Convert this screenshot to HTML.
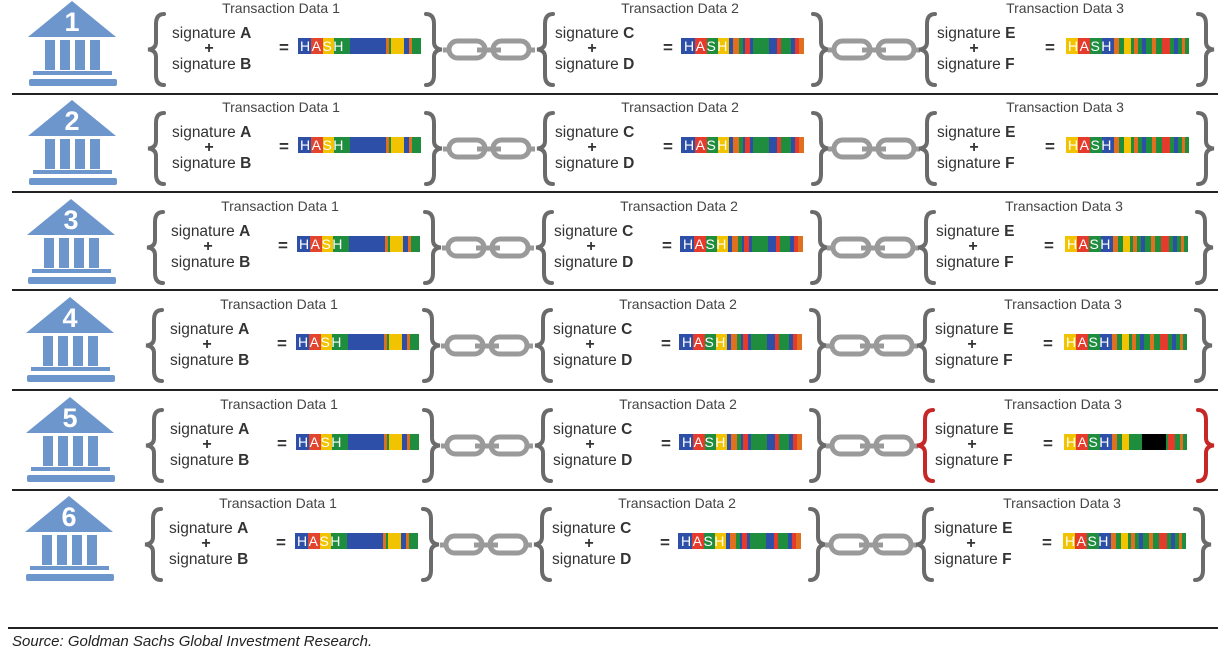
<!DOCTYPE html>
<html><head><meta charset="utf-8"><style>
html,body{margin:0;padding:0;background:#fff;}
svg{display:block;font-family:"Liberation Sans",sans-serif;}
.td{font-size:14px;fill:#444;text-anchor:middle;}
.sg{font-size:15.5px;fill:#333;}
.sg tspan.b{font-weight:bold;}
.pl{font-size:16px;font-weight:bold;fill:#333;text-anchor:middle;}
.eq{font-size:17px;font-weight:bold;fill:#333;}
.hs{font-size:14px;fill:#fff;font-weight:normal;letter-spacing:1.5px;}
.br{fill:none;stroke:#6b6b6b;stroke-width:4;stroke-linecap:round;}
.red{stroke:#c62828;}
.ch{fill:none;stroke:#9a9a9a;stroke-width:5;}
.num{font-size:27px;font-weight:bold;fill:#fff;text-anchor:middle;}
</style></head><body>
<svg width="1226" height="649" viewBox="0 0 1226 649" xmlns="http://www.w3.org/2000/svg">
<defs>
<g id="bank" fill="#6d96cd">
<polygon points="72,1 116,37 28,37"/>
<rect x="45" y="40" width="10" height="30"/><rect x="60" y="40" width="10" height="30"/><rect x="75" y="40" width="10" height="30"/><rect x="90" y="40" width="10" height="30"/>
<rect x="33" y="71" width="79" height="4"/>
<rect x="29" y="79" width="88" height="7" rx="2"/>
</g>
<g id="lb"><path class="br" d="M17,14 Q9,14 9,24 L9,42 Q9,49 1,49.5 Q9,50 9,57 L9,75 Q9,85 17,85"/></g>
<g id="rb"><path class="br" d="M1,14 Q9,14 9,24 L9,42 Q9,49 17,49.5 Q9,50 9,57 L9,75 Q9,85 1,85"/></g>
<g id="lbr"><path class="br red" d="M17,14 Q9,14 9,24 L9,42 Q9,49 1,49.5 Q9,50 9,57 L9,75 Q9,85 17,85"/></g>
<g id="rbr"><path class="br red" d="M1,14 Q9,14 9,24 L9,42 Q9,49 17,49.5 Q9,50 9,57 L9,75 Q9,85 1,85"/></g>
<g id="chain">
<line x1="0" y1="50" x2="8" y2="50" class="ch"/>
<rect x="6" y="41" width="36" height="17" rx="8.5" class="ch"/>
<line x1="34" y1="50" x2="58" y2="50" class="ch"/>
<rect x="50" y="41" width="36" height="17" rx="8.5" class="ch"/>
<line x1="84" y1="50" x2="92" y2="50" class="ch"/>
</g>
<g id="h1">
<rect x="0" y="0" width="123" height="16" fill="#2e4fa8"/>
<rect x="13" y="0" width="12" height="16" fill="#e2452e"/>
<rect x="25" y="0" width="11" height="16" fill="#f2c300"/>
<rect x="36" y="0" width="16" height="16" fill="#1e8e3e"/>
<rect x="88" y="0" width="3" height="16" fill="#e07020"/>
<rect x="91" y="0" width="2" height="16" fill="#1e8e3e"/>
<rect x="93" y="0" width="13" height="16" fill="#f2c300"/>
<rect x="111" y="0" width="3" height="16" fill="#e07020"/>
<rect x="114" y="0" width="9" height="16" fill="#1e8e3e"/>
</g>
<g id="h2">
<rect x="0" y="0" width="123" height="16" fill="#2e4fa8"/>
<rect x="14" y="0" width="12" height="16" fill="#e53b2c"/>
<rect x="26" y="0" width="11" height="16" fill="#1e8e3e"/>
<rect x="37" y="0" width="11" height="16" fill="#f2c300"/>
<rect x="52" y="0" width="6" height="16" fill="#e07020"/>
<rect x="58" y="0" width="4" height="16" fill="#1e8e3e"/>
<rect x="64" y="0" width="5" height="16" fill="#e53b2c"/>
<rect x="72" y="0" width="16" height="16" fill="#1e8e3e"/>
<rect x="96" y="0" width="4" height="16" fill="#e53b2c"/>
<rect x="100" y="0" width="10" height="16" fill="#1e8e3e"/>
<rect x="114" y="0" width="4" height="16" fill="#e53b2c"/>
<rect x="118" y="0" width="5" height="16" fill="#e07020"/>
</g>
<g id="h3">
<rect x="0" y="0" width="123" height="16" fill="#1e8e3e"/>
<rect x="0" y="0" width="12" height="16" fill="#f2c300"/>
<rect x="12" y="0" width="12" height="16" fill="#e53b2c"/>
<rect x="36" y="0" width="12" height="16" fill="#2e4fa8"/>
<rect x="48" y="0" width="5" height="16" fill="#e07020"/>
<rect x="58" y="0" width="7" height="16" fill="#f2c300"/>
<rect x="68" y="0" width="4" height="16" fill="#e07020"/>
<rect x="76" y="0" width="4" height="16" fill="#2e4fa8"/>
<rect x="86" y="0" width="4" height="16" fill="#e07020"/>
<rect x="96" y="0" width="8" height="16" fill="#e53b2c"/>
<rect x="108" y="0" width="4" height="16" fill="#2e4fa8"/>
<rect x="116" y="0" width="3" height="16" fill="#e07020"/>
</g>
<g id="h3b">
<rect x="0" y="0" width="123" height="16" fill="#1e8e3e"/>
<rect x="0" y="0" width="12" height="16" fill="#f2c300"/>
<rect x="12" y="0" width="12" height="16" fill="#e53b2c"/>
<rect x="36" y="0" width="12" height="16" fill="#2e4fa8"/>
<rect x="48" y="0" width="5" height="16" fill="#e07020"/>
<rect x="58" y="0" width="7" height="16" fill="#f2c300"/>
<rect x="78" y="0" width="24" height="16" fill="#000"/>
<rect x="104" y="0" width="7" height="16" fill="#e53b2c"/>
<rect x="116" y="0" width="3" height="16" fill="#e07020"/>
</g>
</defs>

<!-- separators -->
<g stroke="#222" stroke-width="2">
<line x1="12" y1="94" x2="1218" y2="94"/>
<line x1="12" y1="192" x2="1218" y2="192"/>
<line x1="12" y1="290" x2="1218" y2="290"/>
<line x1="12" y1="390" x2="1218" y2="390"/>
<line x1="12" y1="490" x2="1218" y2="490"/>
<line x1="8" y1="628" x2="1218" y2="628"/>
</g>

<!-- ROW 1 -->
<g transform="translate(0,0)">
<use href="#bank"/><text class="num" x="72" y="31">1</text>
<use href="#lb" x="147"/>
<text class="td" x="281" y="13">Transaction Data 1</text>
<text class="sg" x="172" y="38">signature <tspan class="b">A</tspan></text>
<text class="pl" x="209" y="53">+</text>
<text class="sg" x="172" y="69">signature <tspan class="b">B</tspan></text>
<text class="eq" x="279" y="53">=</text>
<use href="#h1" x="298" y="38"/><text class="hs" x="300" y="51">HASH</text>
<use href="#rb" x="425"/><use href="#chain" x="443"/><use href="#lb" x="536"/>
<text class="td" x="680" y="13">Transaction Data 2</text>
<text class="sg" x="555" y="38">signature <tspan class="b">C</tspan></text>
<text class="pl" x="592" y="53">+</text>
<text class="sg" x="555" y="69">signature <tspan class="b">D</tspan></text>
<text class="eq" x="663" y="53">=</text>
<use href="#h2" x="681" y="38"/><text class="hs" x="684" y="51">HASH</text>
<use href="#rb" x="812"/><use href="#chain" x="828"/><use href="#lb" x="918"/>
<text class="td" x="1065" y="13">Transaction Data 3</text>
<text class="sg" x="937" y="38">signature <tspan class="b">E</tspan></text>
<text class="pl" x="974" y="53">+</text>
<text class="sg" x="937" y="69">signature <tspan class="b">F</tspan></text>
<text class="eq" x="1045" y="53">=</text>
<use href="#h3" x="1066" y="38"/><text class="hs" x="1068" y="51">HASH</text>
<use href="#rb" x="1197"/>
</g>

<!-- ROW 2 -->
<g transform="translate(0,99)">
<use href="#bank"/><text class="num" x="72" y="31">2</text>
<use href="#lb" x="147"/>
<text class="td" x="281" y="13">Transaction Data 1</text>
<text class="sg" x="172" y="38">signature <tspan class="b">A</tspan></text>
<text class="pl" x="209" y="53">+</text>
<text class="sg" x="172" y="69">signature <tspan class="b">B</tspan></text>
<text class="eq" x="279" y="53">=</text>
<use href="#h1" x="298" y="38"/><text class="hs" x="300" y="51">HASH</text>
<use href="#rb" x="425"/><use href="#chain" x="443"/><use href="#lb" x="536"/>
<text class="td" x="680" y="13">Transaction Data 2</text>
<text class="sg" x="555" y="38">signature <tspan class="b">C</tspan></text>
<text class="pl" x="592" y="53">+</text>
<text class="sg" x="555" y="69">signature <tspan class="b">D</tspan></text>
<text class="eq" x="663" y="53">=</text>
<use href="#h2" x="681" y="38"/><text class="hs" x="684" y="51">HASH</text>
<use href="#rb" x="812"/><use href="#chain" x="828"/><use href="#lb" x="918"/>
<text class="td" x="1065" y="13">Transaction Data 3</text>
<text class="sg" x="937" y="38">signature <tspan class="b">E</tspan></text>
<text class="pl" x="974" y="53">+</text>
<text class="sg" x="937" y="69">signature <tspan class="b">F</tspan></text>
<text class="eq" x="1045" y="53">=</text>
<use href="#h3" x="1066" y="38"/><text class="hs" x="1068" y="51">HASH</text>
<use href="#rb" x="1197"/>
</g>

<!-- ROW 3 -->
<g transform="translate(-1,198)">
<use href="#bank"/><text class="num" x="72" y="31">3</text>
<use href="#lb" x="147"/>
<text class="td" x="281" y="13">Transaction Data 1</text>
<text class="sg" x="172" y="38">signature <tspan class="b">A</tspan></text>
<text class="pl" x="209" y="53">+</text>
<text class="sg" x="172" y="69">signature <tspan class="b">B</tspan></text>
<text class="eq" x="279" y="53">=</text>
<use href="#h1" x="298" y="38"/><text class="hs" x="300" y="51">HASH</text>
<use href="#rb" x="425"/><use href="#chain" x="443"/><use href="#lb" x="536"/>
<text class="td" x="680" y="13">Transaction Data 2</text>
<text class="sg" x="555" y="38">signature <tspan class="b">C</tspan></text>
<text class="pl" x="592" y="53">+</text>
<text class="sg" x="555" y="69">signature <tspan class="b">D</tspan></text>
<text class="eq" x="663" y="53">=</text>
<use href="#h2" x="681" y="38"/><text class="hs" x="684" y="51">HASH</text>
<use href="#rb" x="812"/><use href="#chain" x="828"/><use href="#lb" x="918"/>
<text class="td" x="1065" y="13">Transaction Data 3</text>
<text class="sg" x="937" y="38">signature <tspan class="b">E</tspan></text>
<text class="pl" x="974" y="53">+</text>
<text class="sg" x="937" y="69">signature <tspan class="b">F</tspan></text>
<text class="eq" x="1045" y="53">=</text>
<use href="#h3" x="1066" y="38"/><text class="hs" x="1068" y="51">HASH</text>
<use href="#rb" x="1197"/>
</g>

<!-- ROW 4 -->
<g transform="translate(-2,296)">
<use href="#bank"/><text class="num" x="72" y="31">4</text>
<use href="#lb" x="147"/>
<text class="td" x="281" y="13">Transaction Data 1</text>
<text class="sg" x="172" y="38">signature <tspan class="b">A</tspan></text>
<text class="pl" x="209" y="53">+</text>
<text class="sg" x="172" y="69">signature <tspan class="b">B</tspan></text>
<text class="eq" x="279" y="53">=</text>
<use href="#h1" x="298" y="38"/><text class="hs" x="300" y="51">HASH</text>
<use href="#rb" x="425"/><use href="#chain" x="443"/><use href="#lb" x="536"/>
<text class="td" x="680" y="13">Transaction Data 2</text>
<text class="sg" x="555" y="38">signature <tspan class="b">C</tspan></text>
<text class="pl" x="592" y="53">+</text>
<text class="sg" x="555" y="69">signature <tspan class="b">D</tspan></text>
<text class="eq" x="663" y="53">=</text>
<use href="#h2" x="681" y="38"/><text class="hs" x="684" y="51">HASH</text>
<use href="#rb" x="812"/><use href="#chain" x="828"/><use href="#lb" x="918"/>
<text class="td" x="1065" y="13">Transaction Data 3</text>
<text class="sg" x="937" y="38">signature <tspan class="b">E</tspan></text>
<text class="pl" x="974" y="53">+</text>
<text class="sg" x="937" y="69">signature <tspan class="b">F</tspan></text>
<text class="eq" x="1045" y="53">=</text>
<use href="#h3" x="1066" y="38"/><text class="hs" x="1068" y="51">HASH</text>
<use href="#rb" x="1197"/>
</g>

<!-- ROW 5 -->
<g transform="translate(-2,396)">
<use href="#bank"/><text class="num" x="72" y="31">5</text>
<use href="#lb" x="147"/>
<text class="td" x="281" y="13">Transaction Data 1</text>
<text class="sg" x="172" y="38">signature <tspan class="b">A</tspan></text>
<text class="pl" x="209" y="53">+</text>
<text class="sg" x="172" y="69">signature <tspan class="b">B</tspan></text>
<text class="eq" x="279" y="53">=</text>
<use href="#h1" x="298" y="38"/><text class="hs" x="300" y="51">HASH</text>
<use href="#rb" x="425"/><use href="#chain" x="443"/><use href="#lb" x="536"/>
<text class="td" x="680" y="13">Transaction Data 2</text>
<text class="sg" x="555" y="38">signature <tspan class="b">C</tspan></text>
<text class="pl" x="592" y="53">+</text>
<text class="sg" x="555" y="69">signature <tspan class="b">D</tspan></text>
<text class="eq" x="663" y="53">=</text>
<use href="#h2" x="681" y="38"/><text class="hs" x="684" y="51">HASH</text>
<use href="#rb" x="812"/><use href="#chain" x="828"/><use href="#lbr" x="918"/>
<text class="td" x="1065" y="13">Transaction Data 3</text>
<text class="sg" x="937" y="38">signature <tspan class="b">E</tspan></text>
<text class="pl" x="974" y="53">+</text>
<text class="sg" x="937" y="69">signature <tspan class="b">F</tspan></text>
<text class="eq" x="1045" y="53">=</text>
<use href="#h3b" x="1066" y="38"/><text class="hs" x="1068" y="51">HASH</text>
<use href="#rbr" x="1199"/>
</g>

<!-- ROW 6 -->
<g transform="translate(-3,495)">
<use href="#bank"/><text class="num" x="72" y="31">6</text>
<use href="#lb" x="147"/>
<text class="td" x="281" y="13">Transaction Data 1</text>
<text class="sg" x="172" y="38">signature <tspan class="b">A</tspan></text>
<text class="pl" x="209" y="53">+</text>
<text class="sg" x="172" y="69">signature <tspan class="b">B</tspan></text>
<text class="eq" x="279" y="53">=</text>
<use href="#h1" x="298" y="38"/><text class="hs" x="300" y="51">HASH</text>
<use href="#rb" x="425"/><use href="#chain" x="443"/><use href="#lb" x="536"/>
<text class="td" x="680" y="13">Transaction Data 2</text>
<text class="sg" x="555" y="38">signature <tspan class="b">C</tspan></text>
<text class="pl" x="592" y="53">+</text>
<text class="sg" x="555" y="69">signature <tspan class="b">D</tspan></text>
<text class="eq" x="663" y="53">=</text>
<use href="#h2" x="681" y="38"/><text class="hs" x="684" y="51">HASH</text>
<use href="#rb" x="812"/><use href="#chain" x="828"/><use href="#lb" x="918"/>
<text class="td" x="1065" y="13">Transaction Data 3</text>
<text class="sg" x="937" y="38">signature <tspan class="b">E</tspan></text>
<text class="pl" x="974" y="53">+</text>
<text class="sg" x="937" y="69">signature <tspan class="b">F</tspan></text>
<text class="eq" x="1045" y="53">=</text>
<use href="#h3" x="1066" y="38"/><text class="hs" x="1068" y="51">HASH</text>
<use href="#rb" x="1197"/>
</g>

<text x="12" y="646" style="font-size:15px;font-style:italic;fill:#222;">Source: Goldman Sachs Global Investment Research.</text>
</svg>
</body></html>
